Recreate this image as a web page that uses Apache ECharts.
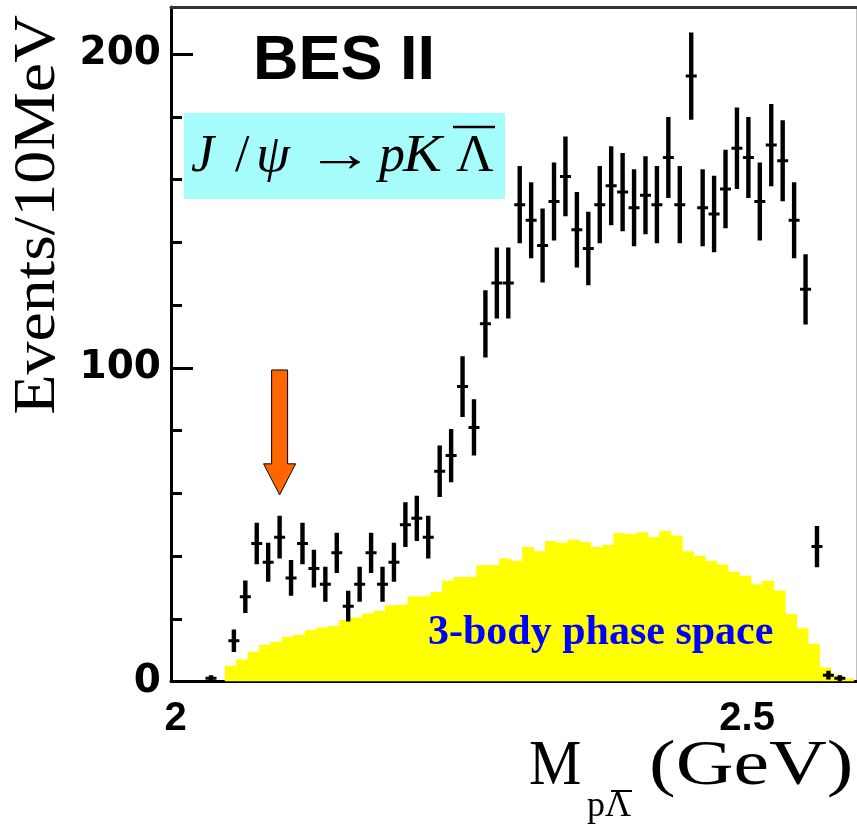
<!DOCTYPE html>
<html><head><meta charset="utf-8">
<script src="https://cdn.jsdelivr.net/npm/echarts@6/dist/echarts.min.js"></script>
<style>html,body{margin:0;padding:0;background:#fff}#c{width:857px;height:827px}</style>
</head><body><div id="c"></div>
<script>
// ---- data (GeV, events / 10 MeV) ----
const massCenters = [2.035, 2.055, 2.065, 2.075, 2.085, 2.095, 2.105, 2.115, 2.125, 2.135, 2.145,
  2.155, 2.165, 2.175, 2.185, 2.195, 2.205, 2.215, 2.225, 2.235, 2.245, 2.255, 2.265, 2.275,
  2.285, 2.295, 2.305, 2.315, 2.325, 2.335, 2.345, 2.355, 2.365, 2.375, 2.385, 2.395, 2.405,
  2.415, 2.425, 2.435, 2.445, 2.455, 2.465, 2.475, 2.485, 2.495, 2.505, 2.515, 2.525, 2.535,
  2.545, 2.555, 2.565, 2.575, 2.585];
const counts = [1, 13, 27, 44, 38, 46, 33, 44, 36, 31, 41,
  24, 31, 41, 31, 38, 50, 52, 46, 67, 72, 94, 81, 114,
  127, 127, 152, 147, 139, 153, 161, 144, 138, 152, 158, 156, 151,
  155, 152, 167, 152, 193, 151, 149, 157, 170, 167, 153, 171, 166,
  147, 125, 43, 2, 1];
const countErrors = [1, 3.6, 5.2, 6.6, 6.2, 6.8, 5.7, 6.6, 6.0, 5.6, 6.4,
  4.9, 5.6, 6.4, 5.6, 6.2, 7.1, 7.2, 6.8, 8.2, 8.5, 9.7, 9.0, 10.7,
  11.3, 11.3, 12.3, 12.1, 11.8, 12.4, 12.7, 12.0, 11.7, 12.3, 12.6, 12.5, 12.3,
  12.4, 12.3, 12.9, 12.3, 13.9, 12.3, 12.2, 12.5, 13.0, 12.9, 12.4, 13.1, 12.9,
  12.1, 11.2, 6.6, 1.4, 1];
// 3-body phase space histogram
const psFirstEdge = 2.047;
const psBinWidth = 0.01;
const psHeights = [5, 7, 9.5, 11.6, 12.7, 14.3, 14.8, 16.4, 17.2, 17.7,
  19.6, 20.4, 21.7, 22.5, 24.3, 24.5, 27.2, 27.2, 28.5, 32.1,
  33.3, 33.3, 37.1, 37.1, 39.2, 38.5, 42.9, 41.5, 44.8, 44.2,
  45.3, 44.5, 42.9, 43.5, 47.3, 47, 47.6, 46, 48, 46.5,
  41.5, 40, 38.5, 37.3, 35, 33.7, 31, 32, 29, 21.5,
  17, 12, 4.5, 2, 1];
// arrow annotation: mass, tip value, tail value
const arrowMark = [2.095, 59.5, 99.3];
// ticks
const xMinorTicks = [2.1, 2.2, 2.3, 2.4, 2.5];
const xMajorTicks = [2.5];
const xTickLabels = [2, 2.5];
const yMinorTicks = [20, 40, 60, 80, 100, 120, 140, 160, 180, 200];
const yMajorTicks = [100, 200];
const yTickLabels = [0, 100, 200];

const X_MIN = 2.0, X_MAX = 2.6, Y_MIN = 0, Y_MAX = 215;

const dataPts = massCenters.map((m, i) => [m, counts[i], countErrors[i]]);
const psData = psHeights.map((h, i) => [psFirstEdge + i * psBinWidth, psFirstEdge + (i + 1) * psBinWidth, h]);

const chart = echarts.init(document.getElementById('c'), null, {renderer: 'canvas'});
const serif = '"Liberation Serif","Times New Roman",serif';
const sans = '"Liberation Sans",Arial,sans-serif';
const wideSans = '"DejaVu Sans",Verdana,sans-serif';

const baseX = {type: 'value', min: X_MIN, max: X_MAX, splitLine: {show: false}};
const baseY = {type: 'value', min: Y_MIN, max: Y_MAX, splitLine: {show: false}};

// serif text placed by its baseline (middle of em box sits 0.34 em above baseline)
const serifTxt = (t, x, base, fs, sx, italic) => ({type: 'text', x: x, y: base - 0.3375 * fs, z: 6, scaleX: sx || 1,
  style: {text: t, font: (italic ? 'italic ' : '') + fs + 'px ' + serif, fill: '#000', verticalAlign: 'middle'}});

chart.setOption({
  animation: false,
  backgroundColor: '#fff',
  grid: {left: 171, right: 0, top: 7, bottom: 145.5, containLabel: false},
  xAxis: [
    Object.assign({}, baseX, {
      position: 'bottom', interval: 0.1,
      axisLine: {show: true, onZero: false, lineStyle: {color: '#000', width: 3}},
      axisTick: {show: true, inside: true, length: 13, customValues: xMinorTicks, lineStyle: {color: '#000', width: 3}},
      axisLabel: {show: false}
    }),
    Object.assign({}, baseX, {
      position: 'bottom', interval: 0.5,
      axisLine: {show: false, onZero: false},
      axisTick: {show: true, inside: true, length: 28, customValues: xMajorTicks, lineStyle: {color: '#000', width: 3}},
      axisLabel: {show: true, customValues: xTickLabels, margin: 17, color: '#000',
        fontFamily: sans, fontWeight: 'bold', fontSize: 40, padding: [0, 0, 0, 9],
        formatter: v => String(v)}
    }),
    Object.assign({}, baseX, {
      position: 'top',
      axisLine: {show: true, onZero: false, lineStyle: {color: '#333', width: 3}},
      axisTick: {show: false}, axisLabel: {show: false}
    })
  ],
  yAxis: [
    Object.assign({}, baseY, {
      position: 'left', interval: 20,
      axisLine: {show: true, onZero: false, lineStyle: {color: '#000', width: 3}},
      axisTick: {show: true, inside: true, length: 11, customValues: yMinorTicks, lineStyle: {color: '#000', width: 3}},
      axisLabel: {show: false}
    }),
    Object.assign({}, baseY, {
      position: 'left', interval: 100,
      axisLine: {show: false, onZero: false},
      axisTick: {show: true, inside: true, length: 22, customValues: yMajorTicks, lineStyle: {color: '#000', width: 3}},
      axisLabel: {show: true, customValues: yTickLabels, margin: 10, color: '#000',
        fontFamily: wideSans, fontWeight: 'bold', fontSize: 39}
    }),
    Object.assign({}, baseY, {
      position: 'right',
      axisLine: {show: true, onZero: false, lineStyle: {color: '#aaa', width: 1.5}},
      axisTick: {show: false}, axisLabel: {show: false}
    })
  ],
  series: [
    {
      type: 'custom', name: 'phase space', xAxisIndex: 0, yAxisIndex: 0, z: 1, clip: true,
      data: psData, encode: {x: [0, 1], y: 2},
      renderItem: (params, api) => {
        const lo = api.value(0), hi = api.value(1), h = api.value(2);
        const p0 = api.coord([lo, h]);
        const p1 = api.coord([hi, 0]);
        return {type: 'rect', shape: {x: p0[0], y: p0[1], width: p1[0] - p0[0] + 0.6, height: p1[1] - p0[1]},
          style: {fill: '#ffff00'}};
      }
    },
    {
      type: 'custom', name: 'data', xAxisIndex: 0, yAxisIndex: 0, z: 3, clip: true,
      data: dataPts, encode: {x: 0, y: 1},
      renderItem: (params, api) => {
        const x = api.value(0), v = api.value(1), e = api.value(2);
        const t = api.coord([x, v + e]), b = api.coord([x, v - e]), c = api.coord([x, v]);
        return {type: 'group', children: [
          {type: 'line', shape: {x1: t[0], y1: t[1], x2: b[0], y2: b[1]}, style: {stroke: '#000', lineWidth: 4.4}},
          {type: 'line', shape: {x1: c[0] - 5.5, y1: c[1], x2: c[0] + 5.5, y2: c[1]}, style: {stroke: '#000', lineWidth: 3}}
        ]};
      }
    },
    {
      type: 'custom', name: 'arrow', xAxisIndex: 0, yAxisIndex: 0, z: 4, clip: false,
      data: [arrowMark], encode: {x: 0, y: 1},
      renderItem: (params, api) => {
        const m = api.value(0);
        const tip = api.coord([m, api.value(1)]);
        const tail = api.coord([m, api.value(2)]);
        const hw = 8, headW = 16, headH = 31;
        const sy = tip[1] - headH;
        return {type: 'polygon', shape: {points: [
          [tip[0] - hw, tail[1]], [tip[0] + hw, tail[1]], [tip[0] + hw, sy], [tip[0] + headW, sy],
          [tip[0], tip[1]], [tip[0] - headW, sy], [tip[0] - hw, sy]]},
          style: {fill: '#ff6600', stroke: '#000', lineWidth: 1}};
      }
    }
  ],
  graphic: [
    {type: 'text', left: 253, top: 30, style: {text: 'BES II', font: 'bold 63px ' + sans, fill: '#000'}},
    {type: 'rect', shape: {x: 184, y: 113, width: 321, height: 86}, style: {fill: '#a6fbfb'}, z: 5},
    serifTxt('J', 191, 175, 52, 1, true),
    serifTxt('/', 235, 175, 52, 1, false),
    serifTxt('ψ', 256, 175, 52, 1.05, true),
    serifTxt('→', 306, 175, 52, 1.3, false),
    serifTxt('p', 379, 175, 52, 1, true),
    serifTxt('K', 403, 175, 52, 1.12, true),
    serifTxt('Λ', 456, 175, 52, 1.0, false),
    {type: 'line', z: 6, shape: {x1: 453, y1: 127, x2: 495, y2: 127}, style: {stroke: '#000', lineWidth: 2.5}},
    {type: 'text', left: 428, top: 612, z: 6, style: {text: '3-body phase space', font: 'bold 42px ' + serif, fill: '#0000ff'}},
    {type: 'text', x: 38, y: 215, rotation: Math.PI / 2, scaleX: 1.1, z: 6, style: {
      text: 'Events/10MeV', font: '60px ' + serif, fill: '#000', align: 'center', verticalAlign: 'middle'}},
    serifTxt('M', 529, 789, 64, 0.92, false),
    serifTxt('pΛ', 587, 819, 36, 1, false),
    {type: 'line', z: 6, shape: {x1: 611, y1: 791, x2: 632, y2: 791}, style: {stroke: '#000', lineWidth: 2}},
    serifTxt('(GeV)', 649, 789, 64, 1.25, false)
  ]
});
</script>
</body></html>
